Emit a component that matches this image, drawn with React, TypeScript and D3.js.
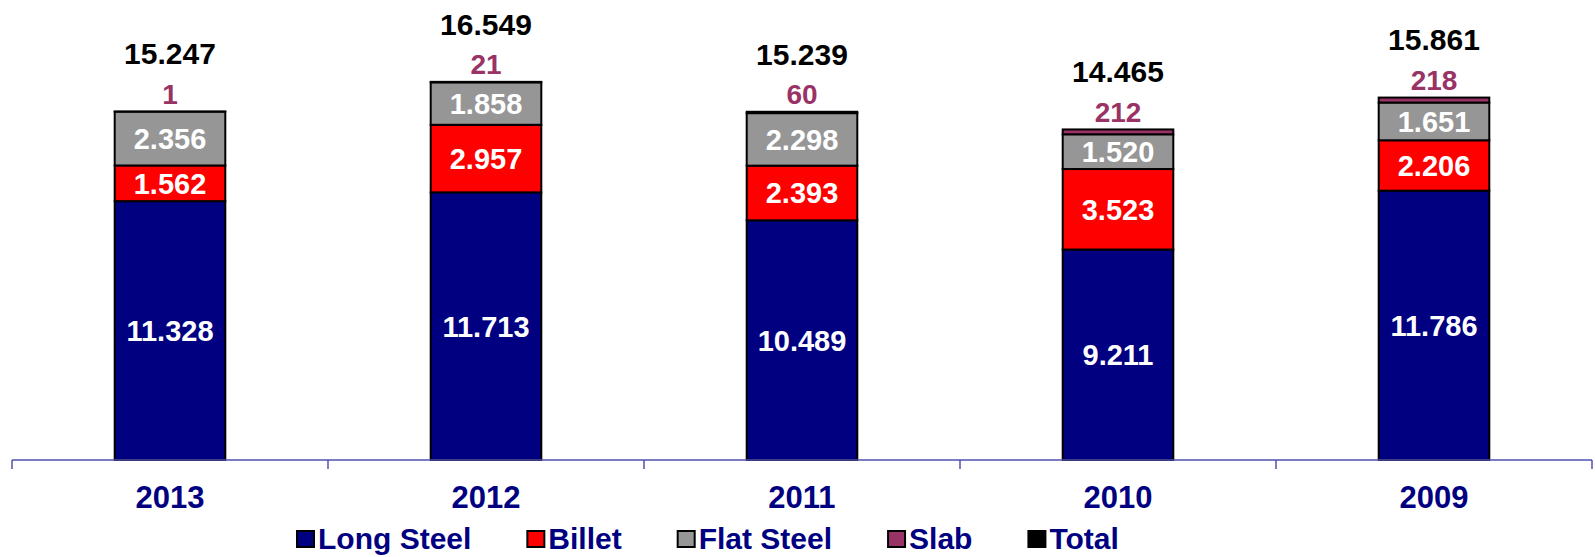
import * as d3 from "d3";

const years = ["2013", "2012", "2011", "2010", "2009"];
const longSteel = [11328, 11713, 10489, 9211, 11786];
const billet = [1562, 2957, 2393, 3523, 2206];
const flatSteel = [2356, 1858, 2298, 1520, 1651];
const slab = [1, 21, 60, 212, 218];
const totals = [15247, 16549, 15239, 14465, 15861];

const seriesNames = ["Long Steel", "Billet", "Flat Steel", "Slab"];
const legendNames = ["Long Steel", "Billet", "Flat Steel", "Slab", "Total"];
const colors = ["#000080", "#ff0000", "#969696", "#993366", "#000000"];

const width = 1595;
const height = 557;
const font = "'Liberation Sans', Arial, sans-serif";
const navy = "#000080";

const locale = d3.formatLocale({ decimal: ",", thousands: ".", grouping: [3], currency: ["", "€"] });
const fmt = locale.format(",d");

let canvas: HTMLCanvasElement | null = null;
const textWidth = (s: string, size: number) => {
  if (!canvas) canvas = document.createElement("canvas");
  const ctx = canvas.getContext("2d")!;
  ctx.font = `bold ${size}px 'Liberation Sans', Arial, sans-serif`;
  return ctx.measureText(s).width;
};

export default function App() {
  const rows = years.map((y, i) => ({
    year: y,
    "Long Steel": longSteel[i],
    Billet: billet[i],
    "Flat Steel": flatSteel[i],
    Slab: slab[i],
    total: totals[i],
  }));

  const x = d3.scaleBand().domain(years).range([12, 1592]).paddingInner(0.65).paddingOuter(0.325);
  const y = d3.scaleLinear().domain([0, 20000]).range([460, 3]);
  const stacked = d3.stack<any>().keys(seriesNames)(rows);
  const step = x.step();
  const tickXs = d3.range(years.length + 1).map((i) => 12 + i * step);

  // legend layout
  const legendSize = 30;
  let lx = 297;
  const legendItems = legendNames.map((name, i) => {
    const item = { name, color: colors[i], x: lx };
    lx += 18 + 4 + textWidth(name, legendSize) + 55;
    return item;
  });

  return (
    <svg width={width} height={height} style={{ position: "absolute", left: 0, top: 0 }} fontFamily={font}>
      <rect width={width} height={height} fill="#fff" />
      {stacked.map((s, si) => (
        <g key={s.key}>
          {s.map((d, i) => (
            <rect
              key={i}
              x={x(years[i])}
              y={y(d[1])}
              width={x.bandwidth()}
              height={y(d[0]) - y(d[1])}
              fill={colors[si]}
              stroke="#000"
              strokeWidth={2}
            />
          ))}
        </g>
      ))}
      {/* inner segment labels */}
      {stacked.slice(0, 3).map((s) =>
        s.map((d, i) => (
          <text
            key={s.key + i}
            x={x(years[i])! + x.bandwidth() / 2}
            y={(y(d[0]) + y(d[1])) / 2}
            dy="0.36em"
            textAnchor="middle"
            fill="#fff"
            fontWeight="bold"
            fontSize={29}
          >
            {fmt(d[1] - d[0])}
          </text>
        ))
      )}
      {/* slab labels */}
      {rows.map((r, i) => (
        <text
          key={"slab" + i}
          x={x(r.year)! + x.bandwidth() / 2}
          y={y(stacked[3][i][1]) - 18}
          dy="0.36em"
          textAnchor="middle"
          fill="#993366"
          fontWeight="bold"
          fontSize={28}
        >
          {fmt(r.Slab)}
        </text>
      ))}
      {/* totals */}
      {rows.map((r, i) => (
        <text
          key={"tot" + i}
          x={x(r.year)! + x.bandwidth() / 2}
          y={y(stacked[3][i][1]) - 58}
          dy="0.36em"
          textAnchor="middle"
          fill="#000"
          fontWeight="bold"
          fontSize={30}
        >
          {fmt(r.total)}
        </text>
      ))}
      {/* axis */}
      <line x1={12} x2={1592} y1={460} y2={460} stroke="#5050b0" strokeWidth={1.5} />
      {tickXs.map((tx, i) => (
        <line key={i} x1={tx} x2={tx} y1={460} y2={469} stroke="#5050b0" strokeWidth={1.5} />
      ))}
      {years.map((yr) => (
        <text
          key={yr}
          x={x(yr)! + x.bandwidth() / 2}
          y={508}
          textAnchor="middle"
          fill={navy}
          fontWeight="bold"
          fontSize={31}
        >
          {yr}
        </text>
      ))}
      {/* legend */}
      {legendItems.map((it) => (
        <g key={it.name}>
          <rect
            x={it.x}
            y={531}
            width={17}
            height={16}
            fill={it.color}
            stroke="#000"
            strokeWidth={2}
          />
          <text x={it.x + 21} y={549} fill={navy} fontWeight="bold" fontSize={legendSize}>
            {it.name}
          </text>
        </g>
      ))}
    </svg>
  );
}
